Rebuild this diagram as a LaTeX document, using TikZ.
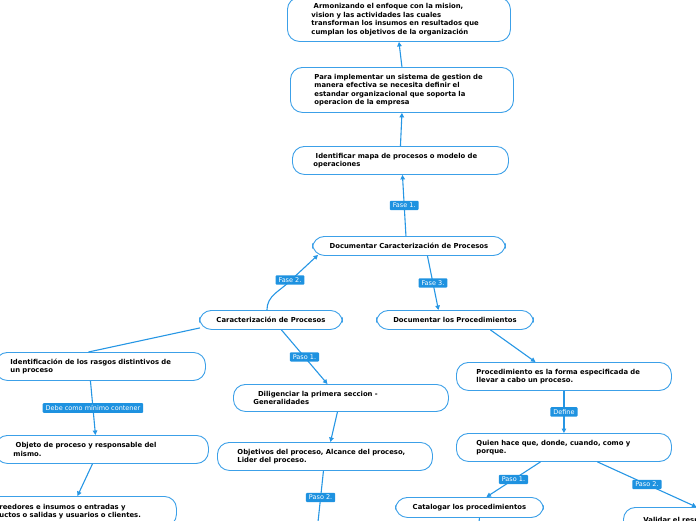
\documentclass[tikz,border=0pt]{standalone}
\usepackage{fontspec}
\setmainfont{DejaVu Sans}
\usetikzlibrary{arrows.meta}
\definecolor{lineblue}{RGB}{38,150,228}
\definecolor{boxblue}{RGB}{60,160,232}
\definecolor{tagblue}{RGB}{30,146,224}
\tikzset{
  box/.style={draw=boxblue, line width=0.9pt, rounded corners=12pt, fill=white,
    anchor=north west, align=left, font=\fontsize{6.85}{8.5}\selectfont\bfseries,
    inner ysep=0pt},
  cbox/.style={box, align=center},
  conn/.style={draw=lineblue, line width=1.1pt},
  arr/.style={conn, -{Triangle[length=4.5pt,width=4.5pt]}},
  tag/.style={fill=tagblue, text=white, rounded corners=1pt, inner xsep=3pt,
    inner ysep=2.2pt, font=\fontsize{6.5}{7.5}\selectfont}
}
\begin{document}
\begin{tikzpicture}[x=1pt,y=-1pt]
\useasboundingbox (0,0) rectangle (696,520);
% boxes
\node[box, text width=175pt, inner xsep=24pt, minimum height=44pt] (top) at (287,-3)
  {\ Armonizando el enfoque con la mision,\\vision y las actividades las cuales\\transforman los insumos en resultados que\\cumplan los objetivos de la organización};
\node[box, text width=175pt, inner xsep=24pt, minimum height=45pt] (b2) at (290,67)
  {Para implementar un sistema de gestion de\\manera efectiva se necesita definir el\\estandar organizacional que soporta la\\operacion de la empresa};
\node[box, text width=174pt, inner xsep=21pt, minimum height=28pt] (b3) at (292,146)
  {\ Identificar mapa de procesos o modelo de\\operaciones};
\node[cbox, minimum width=193pt, minimum height=19pt] (b4) at (312,236)
  {Documentar Caracterización de Procesos};
\node[cbox, minimum width=143pt, minimum height=19pt] (b5) at (199,310)
  {Caracterización de Procesos};
\node[cbox, minimum width=157pt, minimum height=19pt] (b6) at (376,310)
  {Documentar los Procedimientos};
\node[box, text width=180pt, inner xsep=15pt, minimum height=28pt] (b7) at (-5,352)
  {Identificación de los rasgos distintivos de\\un proceso};
\node[box, text width=177pt, inner xsep=18pt, minimum height=28pt] (b8) at (-5,435)
  {\ Objeto de proceso y responsable del\\mismo.};
\node[box, text width=153pt, inner xsep=24pt, minimum height=30pt] (b9) at (-25,496)
  {reedores e insumos o entradas y\\uctos o salidas y usuarios o clientes.};
\node[box, text width=175pt, inner xsep=20pt, minimum height=27pt] (b10) at (233,384)
  {\ \ Diligenciar la primera seccion -\\Generalidades};
\node[box, text width=175pt, inner xsep=20pt, minimum height=28pt] (b11) at (217,442)
  {Objetivos del proceso, Alcance del proceso,\\Lider del proceso.};
\node[box, text width=175pt, inner xsep=20pt, minimum height=28pt] (b12) at (456,362)
  {Procedimiento es la forma especificada de\\llevar a cabo un proceso.};
\node[box, text width=175pt, inner xsep=20pt, minimum height=28pt] (b13) at (456,433)
  {Quien hace que, donde, cuando, como y\\porque.};
\node[cbox, minimum width=148pt, minimum height=20pt] (b14) at (395,497)
  {Catalogar los procedimientos};
\node[box, text width=60pt, inner xsep=20pt, minimum height=25pt] (b15) at (623,507)
  {Validar el resu};
\coordinate (e11) at (318,522);
\coordinate (e14) at (479,522);
% connectors
\draw[arr] (b2.north) -- (top.south);
\draw[arr] (b3.north) -- (b2.south);
\draw[arr] ([xshift=-3pt]b4.north) -- node[tag]{Fase 1.} ([xshift=2pt]b3.south);
\draw[arr] ([xshift=-4pt]b5.north) to[out=90,in=225] (290,281) -- ([xshift=6pt,yshift=1pt]b4.south west);
\node[tag] at (290,280) {Fase 2.};
\draw[arr] ([xshift=18.5pt]b4.south) -- node[tag]{Fase 3.} ([xshift=-16.5pt]b6.north);
\draw[conn] ([xshift=1pt,yshift=2pt]b5.south west) -- ([xshift=-12pt]b7.north);
\draw[arr] ([xshift=-10pt]b7.south) -- node[tag]{Debe como mínimo contener} ([xshift=-6.5pt]b8.north);
\draw[arr] ([xshift=-9.5pt]b8.south) -- ([xshift=1.5pt]b9.north);
\draw[arr] ([xshift=10.5pt]b5.south) -- node[tag]{Paso 1.} ([xshift=-13.5pt]b10.north);
\draw[arr] ([xshift=-3.5pt]b10.south) -- ([xshift=5.5pt]b11.north);
\draw[conn] ([xshift=-1.5pt]b11.south) -- node[tag, pos=0.52]{Paso 2.} (e11);
\draw[arr] ([xshift=35.5pt]b6.south) -- ([xshift=-28.5pt]b12.north);
\draw[arr] (b12.south) -- node[tag]{Define} (b13.north);
\draw[arr] ([xshift=-23.5pt]b13.south) -- node[tag]{Paso 1.} ([xshift=17pt]b14.north);
\draw[arr] ([xshift=33.5pt]b13.south) -- node[tag]{Paso 2.} ([xshift=23pt]b15.north);
\draw[conn] ([xshift=10pt]b14.south) -- (e14);
\end{tikzpicture}
\end{document}
